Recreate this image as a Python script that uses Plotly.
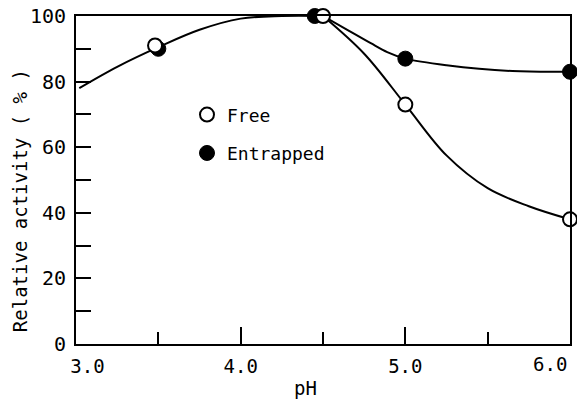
import plotly.graph_objects as go

# Measured relative activity (%) vs pH
ph_free = [3.48, 4.5, 5.0, 6.0]
act_free = [91, 100, 73, 38]
ph_ent = [3.5, 4.45, 5.0, 6.0]
act_ent = [90, 100, 87, 83]

# Hand-drawn guide curves through the data
curve_common_ph = [3.02, 3.25, 3.5, 3.75, 4.0, 4.25, 4.5]
curve_common = [78, 84.5, 90.5, 95.8, 99.2, 100, 100]
curve_free_ph = [4.5, 4.75, 5.0, 5.25, 5.5, 5.75, 6.0]
curve_free = [100, 88.5, 73, 57.5, 47.5, 42, 38]
curve_ent_ph = [4.5, 4.65, 4.79, 4.89, 5.0, 5.25, 5.65, 6.0]
curve_ent = [100, 95.7, 91.7, 89, 87, 85, 83.2, 83]

x_ticks = [3, 4, 5, 6]
x_labels = ["\u00a0\u00a03.0", "4.0", "5.0", ""]
x_last_label = "6.0"
x_minor = [3.5, 4.5, 5.5]
y_ticks = [0, 20, 40, 60, 80, 100]

FONT = "DejaVu Sans Mono"

fig = go.Figure()
for xs, ys in [(curve_common_ph, curve_common), (curve_free_ph, curve_free),
               (curve_ent_ph, curve_ent)]:
    fig.add_trace(go.Scatter(x=xs, y=ys, mode="lines", showlegend=False,
                             line=dict(color="black", width=2, shape="spline"),
                             hoverinfo="skip"))

fig.add_trace(go.Scatter(x=ph_ent, y=act_ent, mode="markers", name="Entrapped",
                         legendgroup="b", legendrank=2, cliponaxis=False,
                         marker=dict(symbol="circle", size=15, color="black",
                                     line=dict(color="black", width=1))))
fig.add_trace(go.Scatter(x=ph_free, y=act_free, mode="markers", name="Free",
                         legendgroup="a", legendrank=1, cliponaxis=False,
                         marker=dict(symbol="circle", size=14, color="white",
                                     line=dict(color="black", width=2))))

fig.update_layout(
    width=577, height=401,
    margin=dict(l=76, r=7, t=16, b=57),
    paper_bgcolor="white", plot_bgcolor="white",
    font=dict(family=FONT, size=19, color="black"),
    showlegend=True,
    legend=dict(x=0.2247, y=0.755, xanchor="left", yanchor="top",
                bgcolor="rgba(0,0,0,0)", traceorder="grouped",
                tracegroupgap=12, font=dict(family=FONT, size=18)),
    xaxis=dict(range=[3, 6], tickvals=x_ticks, ticktext=x_labels,
               ticks="inside", ticklen=17, tickwidth=2, tickcolor="black",
               minor=dict(tickvals=x_minor, ticks="inside", ticklen=12,
                          tickwidth=2, tickcolor="black"),
               showline=True, linewidth=2, linecolor="black", mirror=True,
               showgrid=False, zeroline=False, ticklabelstandoff=4,
               automargin=False),
    yaxis=dict(range=[0, 100], tickvals=y_ticks,
               ticks="inside", ticklen=15, tickwidth=2, tickcolor="black",
               minor=dict(dtick=10, ticks="inside", ticklen=15,
                          tickwidth=2, tickcolor="black"),
               showline=True, linewidth=2, linecolor="black", mirror=True,
               showgrid=False, zeroline=False, ticklabelstandoff=4,
               automargin=False, tickfont=dict(size=20)),
    annotations=[
        dict(text="Relative activity ( % )", xref="paper", yref="paper",
             x=-0.113, y=0.436, xanchor="center", yanchor="middle",
             textangle=-90, showarrow=False,
             font=dict(family=FONT, size=19)),
        dict(text="pH", xref="paper", yref="paper", x=0.4636, y=-0.134,
             xanchor="center", yanchor="middle",
             showarrow=False, font=dict(family=FONT, size=19)),
        # last x tick label kept inside the figure edge
        dict(text=x_last_label, xref="x", yref="paper", x=x_ticks[-1], y=0,
             xanchor="right", yanchor="middle", xshift=-1, yshift=-20,
             showarrow=False, font=dict(family=FONT, size=19)),
    ],
)

fig.write_html("out.html")
